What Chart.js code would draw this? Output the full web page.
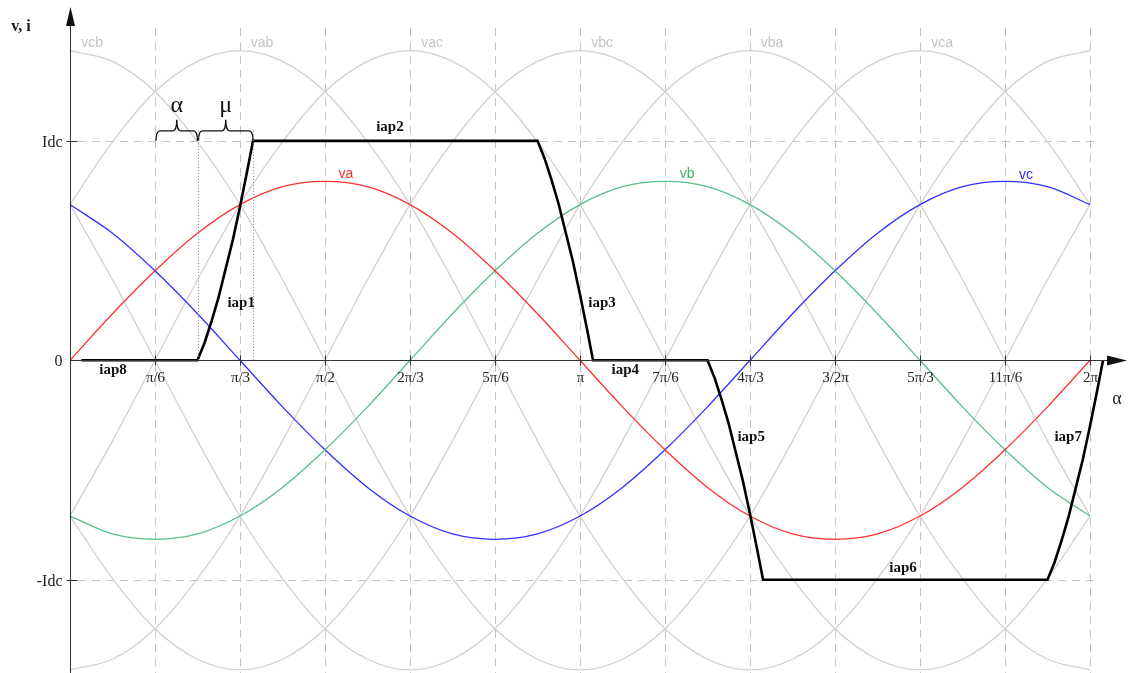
<!DOCTYPE html>
<html>
<head>
<meta charset="utf-8">
<script src="https://cdn.jsdelivr.net/npm/chart.js@4.4.0/dist/chart.umd.min.js"></script>
<style>
  body { margin: 0; background: #fff; }
  canvas { display: block; }
</style>
</head>
<body>
<canvas id="c" width="1128" height="673"></canvas>
<script>
// --- Data (x in degrees, voltages in units of phase peak) ---
const angles = [0, 15, 30, 45, 60, 75, 90, 105, 120, 135, 150, 165, 180, 195, 210, 225, 240, 255, 270, 285, 300, 315, 330, 345, 360];

const va = [0, 0.26, 0.5, 0.71, 0.87, 0.97, 1, 0.97, 0.87, 0.71, 0.5, 0.26, 0, -0.26, -0.5, -0.71, -0.87, -0.97, -1, -0.97, -0.87, -0.71, -0.5, -0.26, 0];
const vb = [-0.87, -0.97, -1, -0.97, -0.87, -0.71, -0.5, -0.26, 0, 0.26, 0.5, 0.71, 0.87, 0.97, 1, 0.97, 0.87, 0.71, 0.5, 0.26, 0, -0.26, -0.5, -0.71, -0.87];
const vc = [0.87, 0.71, 0.5, 0.26, 0, -0.26, -0.5, -0.71, -0.87, -0.97, -1, -0.97, -0.87, -0.71, -0.5, -0.26, 0, 0.26, 0.5, 0.71, 0.87, 0.97, 1, 0.97, 0.87];

const vab = [0.87, 1.22, 1.5, 1.67, 1.73, 1.67, 1.5, 1.22, 0.87, 0.45, 0, -0.45, -0.87, -1.22, -1.5, -1.67, -1.73, -1.67, -1.5, -1.22, -0.87, -0.45, 0, 0.45, 0.87];
const vba = [-0.87, -1.22, -1.5, -1.67, -1.73, -1.67, -1.5, -1.22, -0.87, -0.45, 0, 0.45, 0.87, 1.22, 1.5, 1.67, 1.73, 1.67, 1.5, 1.22, 0.87, 0.45, 0, -0.45, -0.87];
const vac = [-0.87, -0.45, 0, 0.45, 0.87, 1.22, 1.5, 1.67, 1.73, 1.67, 1.5, 1.22, 0.87, 0.45, 0, -0.45, -0.87, -1.22, -1.5, -1.67, -1.73, -1.67, -1.5, -1.22, -0.87];
const vca = [0.87, 0.45, 0, -0.45, -0.87, -1.22, -1.5, -1.67, -1.73, -1.67, -1.5, -1.22, -0.87, -0.45, 0, 0.45, 0.87, 1.22, 1.5, 1.67, 1.73, 1.67, 1.5, 1.22, 0.87];
const vbc = [-1.73, -1.67, -1.5, -1.22, -0.87, -0.45, 0, 0.45, 0.87, 1.22, 1.5, 1.67, 1.73, 1.67, 1.5, 1.22, 0.87, 0.45, 0, -0.45, -0.87, -1.22, -1.5, -1.67, -1.73];
const vcb = [1.73, 1.67, 1.5, 1.22, 0.87, 0.45, 0, -0.45, -0.87, -1.22, -1.5, -1.67, -1.73, -1.67, -1.5, -1.22, -0.87, -0.45, 0, 0.45, 0.87, 1.22, 1.5, 1.67, 1.73];

// current of valve, in units of Idc
const IDC = 1.226;
const iapX = [4, 45, 47.5, 50, 52.5, 55, 57.5, 60, 62.5, 64.6, 165, 167.5, 170, 172.5, 175, 177.5, 180, 182.5, 184.6,
  225, 227.5, 230, 232.5, 235, 237.5, 240, 242.5, 244.6, 345, 347.5, 350, 352.5, 355, 357.5, 360, 362.5, 364.6];
const iapY = [0, 0, 0.08, 0.18, 0.29, 0.42, 0.55, 0.70, 0.86, 1, 1, 0.92, 0.82, 0.71, 0.58, 0.45, 0.30, 0.14, 0,
  0, -0.08, -0.18, -0.29, -0.42, -0.55, -0.70, -0.86, -1, -1, -0.92, -0.82, -0.71, -0.58, -0.45, -0.30, -0.14, 0];

// tick labels
const xTicks = [30, 60, 90, 120, 150, 180, 210, 240, 270, 300, 330, 360];
const xTickLabels = ['π/6', 'π/3', 'π/2', '2π/3', '5π/6', 'π', '7π/6', '4π/3', '3/2π', '5π/3', '11π/6', '2π'];
const yTicks = [IDC, 0, -IDC];
const yTickLabels = ['Idc', '0', '-Idc'];

// firing and end of overlap (degrees)
const alphaStart = 30, alphaEnd = 45, muEnd = 64.6;

// --- Helpers ---
function pts(xs, ys, k = 1) {
  return xs.map((x, i) => ({ x, y: ys[i] * k }));
}
function line(label, data, color, width, tension) {
  return {
    label, data, borderColor: color, borderWidth: width,
    pointRadius: 0, tension: tension, fill: false
  };
}

const GRAY = '#d0d0d0';
const datasets = [
  line('iap', pts(iapX, iapY, IDC), '#000', 2.6, 0),
  line('va', pts(angles, va), '#ff3030', 1.3, 0.33),
  line('vb', pts(angles, vb), '#55c088', 1.3, 0.33),
  line('vc', pts(angles, vc), '#3030ff', 1.3, 0.33),
  line('vab', pts(angles, vab), GRAY, 1.3, 0.33),
  line('vba', pts(angles, vba), GRAY, 1.3, 0.33),
  line('vac', pts(angles, vac), GRAY, 1.3, 0.33),
  line('vca', pts(angles, vca), GRAY, 1.3, 0.33),
  line('vbc', pts(angles, vbc), GRAY, 1.3, 0.33),
  line('vcb', pts(angles, vcb), GRAY, 1.3, 0.33),
];

// text labels: [text, x(deg), y(value), font, color]
const SERIF = '"Liberation Serif", "DejaVu Serif", serif';
const SANS = '"Liberation Sans", Arial, sans-serif';
const curveLabels = [
  ['vcb', 7.8, 1.773, SANS, '#c4c4c4'],
  ['vab', 67.8, 1.773, SANS, '#c4c4c4'],
  ['vac', 127.8, 1.773, SANS, '#c4c4c4'],
  ['vbc', 187.8, 1.773, SANS, '#c4c4c4'],
  ['vba', 247.8, 1.773, SANS, '#c4c4c4'],
  ['vca', 307.8, 1.773, SANS, '#c4c4c4'],
  ['va', 97.4, 1.041, SANS, '#ff3030'],
  ['vb', 217.8, 1.041, SANS, '#40b070'],
  ['vc', 337.4, 1.035, SANS, '#3030ff'],
];
const iapLabels = [
  ['iap1', 60.4, 0.32], ['iap2', 112.9, 1.30], ['iap3', 187.8, 0.32], ['iap4', 196, -0.054],
  ['iap5', 240.4, -0.43], ['iap6', 294, -1.16], ['iap7', 352.3, -0.43], ['iap8', 15.2, -0.054]
];

// --- Drawing of axes, grid and annotations ---
const decor = {
  id: 'decor',
  beforeDatasetsDraw(chart) {
    const { ctx, scales: { x, y }, chartArea } = chart;
    ctx.save();
    ctx.strokeStyle = '#c4c4c4';
    ctx.lineWidth = 1;
    ctx.setLineDash([8, 6]);
    xTicks.forEach(t => {
      const px = Math.round(x.getPixelForValue(t)) + 0.5;
      ctx.beginPath();
      ctx.moveTo(px, 28);
      ctx.lineTo(px, chartArea.bottom);
      ctx.stroke();
    });
    [IDC, -IDC].forEach(v => {
      const py = Math.round(y.getPixelForValue(v)) + 0.5;
      ctx.beginPath();
      ctx.moveTo(x.getPixelForValue(0) + 8, py);
      ctx.lineTo(x.getPixelForValue(363.5), py);
      ctx.stroke();
    });
    ctx.restore();
  },
  afterDatasetsDraw(chart) {
    const { ctx, scales: { x, y }, chartArea } = chart;
    const x0 = Math.round(x.getPixelForValue(0)) + 0.5;
    const y0 = Math.round(y.getPixelForValue(0)) + 0.5;
    ctx.save();

    // axes
    ctx.strokeStyle = '#333';
    ctx.fillStyle = '#111';
    ctx.lineWidth = 1;
    ctx.beginPath();
    ctx.moveTo(x0, chartArea.bottom);
    ctx.lineTo(x0, 22);
    ctx.moveTo(x0, y0);
    ctx.lineTo(1110, y0);
    ctx.stroke();
    ctx.beginPath();
    ctx.moveTo(x0, 7); ctx.lineTo(x0 - 4.5, 26); ctx.lineTo(x0 + 4.5, 26); ctx.closePath();
    ctx.fill();
    ctx.beginPath();
    ctx.moveTo(1127, y0); ctx.lineTo(1107, y0 - 5); ctx.lineTo(1107, y0 + 5); ctx.closePath();
    ctx.fill();

    // ticks + tick labels
    ctx.fillStyle = '#222';
    ctx.font = '15px ' + SERIF;
    ctx.textAlign = 'center';
    ctx.textBaseline = 'middle';
    xTicks.forEach((t, i) => {
      const px = Math.round(x.getPixelForValue(t)) + 0.5;
      ctx.beginPath();
      ctx.moveTo(px, y0 - 5);
      ctx.lineTo(px, y0 + 5);
      ctx.stroke();
      ctx.fillText(xTickLabels[i], px, y0 + 18);
    });
    ctx.textAlign = 'right';
    ctx.font = '16px ' + SERIF;
    yTicks.forEach((v, i) => {
      const py = Math.round(y.getPixelForValue(v)) + 0.5;
      if (v !== 0) {
        ctx.beginPath();
        ctx.moveTo(x0 - 4, py);
        ctx.lineTo(x0 + 7, py);
        ctx.stroke();
      }
      ctx.fillText(yTickLabels[i], x0 - 8, py + 1);
    });

    // axis titles
    ctx.textAlign = 'center';
    ctx.font = 'bold 16px ' + SERIF;
    ctx.fillText('v, i', 21, 27);
    ctx.font = '18px ' + SERIF;
    ctx.fillText('α', 1117, 399);

    // curve labels
    ctx.font = '14px ' + SANS;
    curveLabels.forEach(([t, lx, ly, f, col]) => {
      ctx.fillStyle = col;
      ctx.fillText(t, x.getPixelForValue(lx), y.getPixelForValue(ly));
    });
    ctx.fillStyle = '#111';
    ctx.font = 'bold 15px ' + SERIF;
    iapLabels.forEach(([t, lx, ly]) => {
      ctx.fillText(t, x.getPixelForValue(lx), y.getPixelForValue(ly));
    });

    // alpha / mu braces
    const yBase = y.getPixelForValue(IDC);
    const yMid = yBase - 10, yTip = yBase - 21;
    function brace(x1, x2) {
      const xm = (x1 + x2) / 2;
      ctx.beginPath();
      ctx.moveTo(x1, yBase);
      ctx.quadraticCurveTo(x1, yMid, x1 + 4, yMid);
      ctx.lineTo(xm - 4, yMid);
      ctx.quadraticCurveTo(xm, yMid, xm, yTip);
      ctx.quadraticCurveTo(xm, yMid, xm + 4, yMid);
      ctx.lineTo(x2 - 4, yMid);
      ctx.quadraticCurveTo(x2, yMid, x2, yBase);
      ctx.stroke();
      return xm;
    }
    const xa1 = x.getPixelForValue(alphaStart), xa2 = x.getPixelForValue(alphaEnd), xm2 = x.getPixelForValue(muEnd);
    ctx.strokeStyle = '#111';
    ctx.lineWidth = 1.4;
    const ma = brace(xa1 + 1, xa2);
    const mm = brace(xa2 + 1, xm2);
    ctx.font = '24px ' + SERIF;
    ctx.fillText('α', ma, yTip - 14);
    ctx.fillText('μ', mm, yTip - 14);

    // dotted guide lines
    ctx.strokeStyle = '#888';
    ctx.lineWidth = 1;
    ctx.setLineDash([1, 2]);
    [xa2, xm2].forEach(px => {
      ctx.beginPath();
      ctx.moveTo(Math.round(px) + 0.5, yMid);
      ctx.lineTo(Math.round(px) + 0.5, y0);
      ctx.stroke();
    });
    ctx.restore();
  }
};

new Chart(document.getElementById('c'), {
  type: 'line',
  data: { datasets },
  options: {
    responsive: false,
    devicePixelRatio: 1,
    animation: false,
    layout: { padding: 0 },
    plugins: { legend: { display: false }, tooltip: { enabled: false } },
    scales: {
      x: { type: 'linear', min: -24.706, max: 373.41, display: false },
      y: { type: 'linear', min: -1.747, max: 2.013, display: false }
    }
  },
  plugins: [decor]
});
</script>
</body>
</html>
